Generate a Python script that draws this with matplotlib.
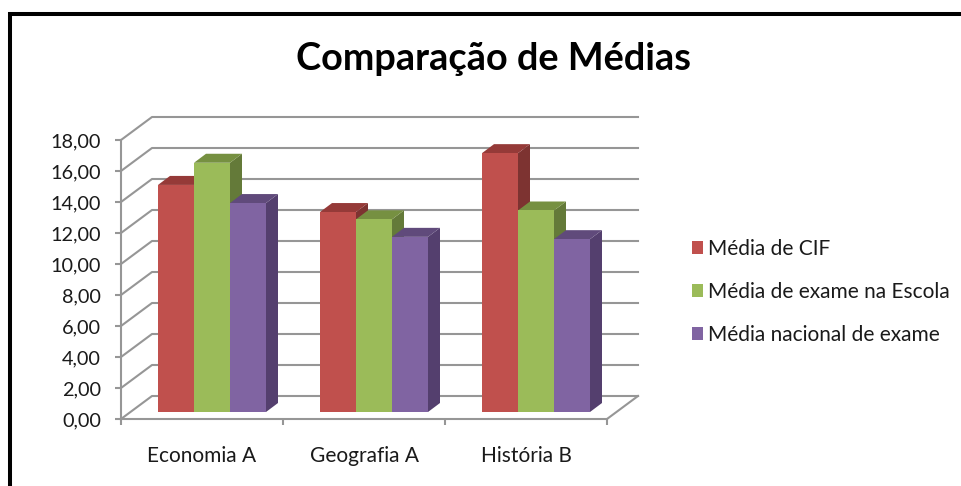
import matplotlib.pyplot as plt
from matplotlib.lines import Line2D
from matplotlib.patches import Patch

plt.rcParams["font.family"] = ["Lato", "DejaVu Sans"]

categories = ["Economia A", "Geografia A", "História B"]
series_names = ["Média de CIF", "Média de exame na Escola", "Média nacional de exame"]
media_cif = [14.65, 12.90, 16.70]
media_escola = [16.08, 12.43, 13.00]
media_nacional = [13.48, 11.30, 11.15]
y_ticks = [0, 2, 4, 6, 8, 10, 12, 14, 16, 18]
y_labels = ["0,00", "2,00", "4,00", "6,00", "8,00", "10,00", "12,00", "14,00", "16,00", "18,00"]

series = [media_cif, media_escola, media_nacional]
front_colors = ["#C0504D", "#9BBB59", "#8064A2"]
top_colors = ["#953A38", "#769041", "#604A7B"]
side_colors = ["#7D3331", "#647A39", "#543F6E"]
grid_color = "#969696"

W, H = 961, 486
fig = plt.figure(figsize=(W / 100, H / 100), dpi=100)
ax = fig.add_axes([121 / W, 1 - 419 / H, (607 - 121) / W, (419 - 140) / H])
ax.set_xlim(0, 3)
ax.set_ylim(0, 18)
ax.patch.set_alpha(0)

# fake 3D depth, expressed in data units
px_x = 3 / 486
px_y = 18 / 279
wall_dx, wall_dy = 31 * px_x, 23 * px_y
gap_dx, gap_dy = 10 * px_x, 7 * px_y
bar_dx, bar_dy = 12 * px_x, 9 * px_y
bar_w = 36 * px_x

for v in y_ticks:
    ax.plot([0, wall_dx, 3 + wall_dx], [v, v + wall_dy, v + wall_dy],
            color=grid_color, lw=1.5, clip_on=False, zorder=1)
ax.plot([3, 3 + wall_dx], [0, wall_dy], color=grid_color, lw=1.5, clip_on=False, zorder=1)

for i in range(len(categories)):
    start = i + gap_dx + (1 - 3 * bar_w) / 2
    for j, vals in enumerate(series):
        x0 = start + j * bar_w
        x1 = x0 + bar_w
        y0 = gap_dy
        y1 = gap_dy + vals[i]
        z = 2 + i * 3 + j
        ax.fill([x1, x1 + bar_dx, x1 + bar_dx, x1], [y0, y0 + bar_dy, y1 + bar_dy, y1],
                color=side_colors[j], lw=0, clip_on=False, zorder=z)
        ax.fill([x0, x0 + bar_dx, x1 + bar_dx, x1], [y1, y1 + bar_dy, y1 + bar_dy, y1],
                color=top_colors[j], lw=0, clip_on=False, zorder=z)
        ax.bar(x0, vals[i], width=bar_w, bottom=y0, align="edge",
               color=front_colors[j], lw=0, clip_on=False, zorder=z)

for s in ["top", "right"]:
    ax.spines[s].set_visible(False)
for s in ["left", "bottom"]:
    ax.spines[s].set_color(grid_color)
    ax.spines[s].set_linewidth(1.5)

ax.set_yticks(y_ticks)
ax.set_yticklabels(y_labels, fontsize=14.3, color="#1a1a1a")
ax.tick_params(axis="y", length=4.5, width=1.5, color=grid_color, pad=10)
ax.set_xticks([0, 1, 2, 3])
ax.set_xticklabels([])
ax.tick_params(axis="x", length=4.5, width=1.5, color=grid_color)
ax.set_xticks([0.5, 1.5, 2.5], minor=True)
ax.set_xticklabels(categories, minor=True, fontsize=15, color="#1a1a1a")
ax.tick_params(axis="x", which="minor", length=0, pad=19.5)

fig.text(494 / W, 1 - 59 / H, "Comparação de Médias", ha="center", va="center",
         fontsize=27.3, fontweight="bold", color="black")

handles = [Patch(color=c, lw=0) for c in front_colors]
fig.legend(handles, series_names, loc="center left", bbox_to_anchor=(673 / W, 1 - 292 / H),
           frameon=False, fontsize=15, labelspacing=1.1, handlelength=0.55,
           handleheight=0.55, handletextpad=0.25, labelcolor="#1a1a1a")

# black frame of the screenshot
fig.add_artist(Line2D([10 / W, 10 / W], [0, 1 - 12 / H], color="black", lw=2.9,
                      solid_capstyle="butt"))
fig.add_artist(Line2D([8 / W, 1], [1 - 14 / H, 1 - 14 / H], color="black", lw=2.9,
                      solid_capstyle="butt"))

fig.savefig("out.png", dpi=100)
